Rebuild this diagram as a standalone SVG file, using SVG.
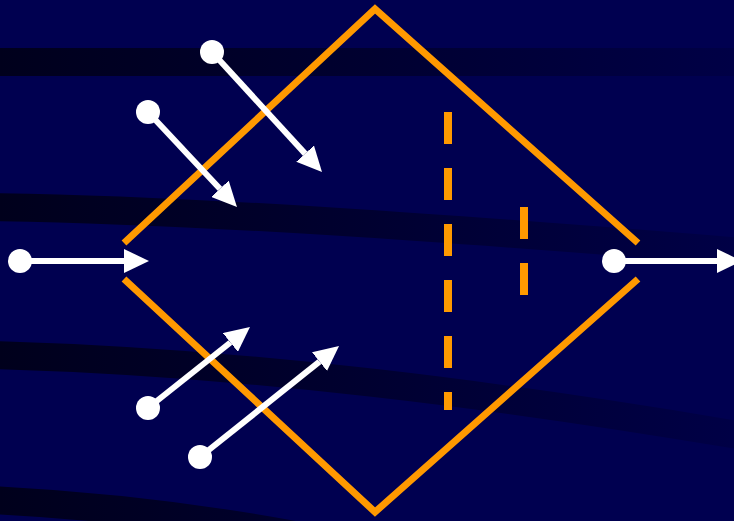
<svg xmlns="http://www.w3.org/2000/svg" width="734" height="521" viewBox="0 0 734 521">
  <defs>
    <linearGradient id="bandGrad" gradientUnits="userSpaceOnUse" x1="0" y1="0" x2="734" y2="0">
      <stop offset="0" stop-color="#00001c"/>
      <stop offset="0.5" stop-color="#000030"/>
      <stop offset="1" stop-color="#000046"/>
    </linearGradient>
    <marker id="head" viewBox="0 0 25 24" refX="0" refY="12" markerWidth="25" markerHeight="24" markerUnits="userSpaceOnUse" orient="auto">
      <path d="M0,0 L25,12 L0,24 z" fill="#ffffff"/>
    </marker>
    <style>
      .band { fill: none; stroke: url(#bandGrad); stroke-width: 28; }
      .diamond { fill: none; stroke: #ff9900; stroke-width: 7; stroke-linejoin: miter; stroke-linecap: butt; }
      .dash { stroke: #ff9900; stroke-width: 8; stroke-dasharray: 32 24; }
      .shaft { stroke: #ffffff; stroke-width: 6; marker-end: url(#head); }
      .dot { fill: #ffffff; }
    </style>
  </defs>
  <rect width="734" height="521" fill="#000050"/>
  <g id="background-bands">
    <path class="band" d="M -10 62 L 744 62"/>
    <path class="band" d="M -10 207 C 200 210 450 228 744 252"/>
    <path class="band" d="M -10 355 C 250 362 500 395 744 436"/>
    <path class="band" d="M -10 500 Q 150 508 300 536"/>
  </g>
  <g id="diamond">
    <polyline class="diamond" points="124,243 375,9 638,243"/>
    <polyline class="diamond" points="124,279 375,512 638,279"/>
  </g>
  <g id="dashed-lines">
    <line class="dash" x1="448" y1="112" x2="448" y2="410"/>
    <line class="dash" x1="524" y1="207" x2="524" y2="295"/>
  </g>
  <g id="connectors">
    <g id="arrow1">
      <line class="shaft" x1="212" y1="52" x2="305.1" y2="153.6"/>
      <circle class="dot" cx="212" cy="52" r="12"/>
    </g>
    <g id="arrow2">
      <line class="shaft" x1="148" y1="112" x2="219.9" y2="188.8"/>
      <circle class="dot" cx="148" cy="112" r="12"/>
    </g>
    <g id="arrow3">
      <line class="shaft" x1="20" y1="261" x2="124" y2="261"/>
      <circle class="dot" cx="20" cy="261" r="12"/>
    </g>
    <g id="arrow4">
      <line class="shaft" x1="148" y1="408" x2="230.4" y2="342.5"/>
      <circle class="dot" cx="148" cy="408" r="12"/>
    </g>
    <g id="arrow5">
      <line class="shaft" x1="200" y1="457" x2="319.5" y2="361.6"/>
      <circle class="dot" cx="200" cy="457" r="12"/>
    </g>
    <g id="arrow6">
      <line class="shaft" x1="614" y1="261" x2="717" y2="261"/>
      <circle class="dot" cx="614" cy="261" r="12"/>
    </g>
  </g>
</svg>
